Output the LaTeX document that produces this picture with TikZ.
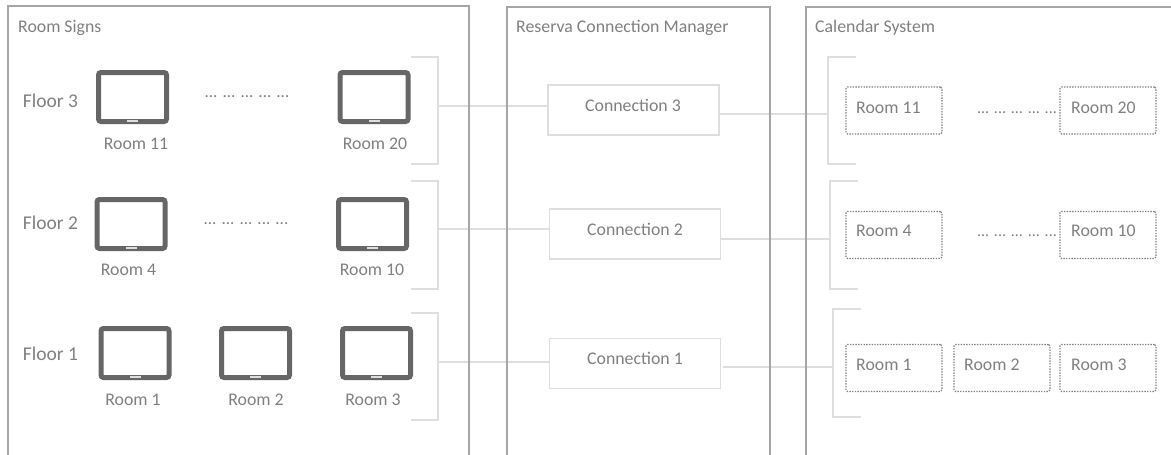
\documentclass[tikz,border=0pt]{standalone}
\usepackage{fontspec}
\setmainfont{Carlito}
\definecolor{panelc}{HTML}{A6A6A6}
\definecolor{linec}{HTML}{DEDEDE}
\definecolor{textc}{HTML}{808080}
\definecolor{tabc}{HTML}{666666}
\tikzset{
  panel/.style={draw=panelc,line width=1.4pt},
  brk/.style={draw=linec,line width=1.3pt},
  conn/.style={draw=linec,line width=1.3pt},
  connbox/.style={draw=linec,line width=1.3pt,minimum width=171pt,minimum height=50pt,inner sep=0pt,fill=white},
  tablet/.style={draw=tabc,line width=5pt,rounded corners=2.5pt,minimum width=68pt,minimum height=49pt,inner sep=0pt,fill=white},
  homebtn/.style={fill=linec,minimum width=11pt,minimum height=2pt,inner sep=0pt},
  roombox/.style={draw=textc,line width=1.2pt,dash pattern=on 1.4pt off 1.3pt,rounded corners=1.5pt,minimum width=96pt,minimum height=47pt,inner sep=0pt},
  lbl/.style={text=textc,font=\fontsize{17.8}{20}\selectfont,inner sep=0pt},
  floorlbl/.style={text=textc,font=\fontsize{19.5}{22}\selectfont,inner sep=0pt},
  title/.style={text=textc,font=\fontsize{17.8}{20}\selectfont,inner sep=0pt,anchor=base west},
  dotsl/.style={text=textc,font=\fontsize{17}{20}\selectfont,inner sep=0pt,anchor=base},
  dotsr/.style={text=textc,font=\fontsize{16}{20}\selectfont,inner sep=0pt,anchor=base},
}
\newcommand{\tabletat}[3]{%
  \node[tablet] (#1) at (#2,#3) {};
  \node[homebtn] (#1b) at (#2,#3+24.2) {};}
\begin{document}
\begin{tikzpicture}[x=1pt,y=-1pt]
\useasboundingbox (0,0) rectangle (1171,455);
% tablets
\tabletat{t20}{132.5}{97}\tabletat{t29}{374}{97}
\tabletat{t4}{131}{224}\tabletat{t10}{372.5}{224}
\tabletat{t1}{135}{353}\tabletat{t2}{255.5}{353}\tabletat{t3}{376.5}{353}
% left labels
\node[title] (ttl1) at (18,32) {Room Signs};
\node[title] (ttl2) at (516,32) {Reserva Connection Manager};
\node[title] (ttl3) at (815,32) {Calendar System};
\node[floorlbl] (f3) at (50.5,101) {Floor 3};
\node[floorlbl] (f2) at (50.5,223) {Floor 2};
\node[floorlbl] (f1) at (50.5,354) {Floor 1};
\node[lbl] (l11) at (136,144) {Room 11};
\node[lbl] (l20) at (375,144) {Room 20};
\node[lbl] (l4) at (128.5,270) {Room 4};
\node[lbl] (l10) at (372,270) {Room 10};
\node[lbl] (l1) at (133,400) {Room 1};
\node[lbl] (l2) at (256,400) {Room 2};
\node[lbl] (l3) at (373,400) {Room 3};
\node[dotsl] (d1) at (247,97) {... ... ... ... ...};
\node[dotsl] (d2) at (246,224) {... ... ... ... ...};
\node[dotsr] (d3) at (1017,113) {... ... ... ... ...};
\node[dotsr] (d4) at (1017,236) {... ... ... ... ...};
% connection boxes
\node[connbox] (c3) at (633.5,110) {};
\node[connbox] (c2) at (635,234) {};
\node[connbox] (c1) at (635,363.5) {};
\node[lbl] (c3t) at (633,105) {Connection 3};
\node[lbl] (c2t) at (635,229) {Connection 2};
\node[lbl] (c1t) at (635,358) {Connection 1};
% room boxes
\node[roombox] (r11) at (894,110.5) {};
\node[roombox] (r20) at (1108,110.5) {};
\node[roombox] (r4) at (894,235) {};
\node[roombox] (r10) at (1108,235) {};
\node[roombox] (r1) at (894,368) {};
\node[roombox] (r2) at (1002,368) {};
\node[roombox] (r3) at (1108,368) {};
\node[lbl,anchor=west] (r11t) at (856,107.5) {Room 11};
\node[lbl,anchor=west] (r20t) at (1071,107.5) {Room 20};
\node[lbl,anchor=west] (r4t) at (856,231) {Room 4};
\node[lbl,anchor=west] (r10t) at (1071,231) {Room 10};
\node[lbl,anchor=west] (r1t) at (856,365) {Room 1};
\node[lbl,anchor=west] (r2t) at (964,365) {Room 2};
\node[lbl,anchor=west] (r3t) at (1071,365) {Room 3};
% brackets
\coordinate (bl3) at (438,106);\coordinate (bl2) at (438,229);\coordinate (bl1) at (438,362);
\coordinate (br3) at (828,114);\coordinate (br2) at (830,239);\coordinate (br1) at (833,367);
\draw[brk] (411,57) -| (bl3) |- (411,164);
\draw[brk] (411,181) -| (bl2) |- (411,289);
\draw[brk] (411,313) -| (bl1) |- (411,420);
\draw[brk] (856,57) -| (br3) |- (856,164);
\draw[brk] (858,181) -| (br2) |- (858,289);
\draw[brk] (861,309) -| (br1) |- (861,417);
% connectors
\draw[conn] (bl3) -- (c3.west |- bl3);
\draw[conn] (bl2) -- (c2.west |- bl2);
\draw[conn] (bl1) -- (c1.west |- bl1);
\draw[conn] (c3.east |- br3) -- (br3);
\draw[conn] (c2.east |- br2) -- (br2);
\draw[conn] ([xshift=2pt]c1.east |- br1) -- (br1);
% panels
\draw[panel] (8,455) -- (8,6) -- (469,6) -- (469,455);
\draw[panel] (507,455) -- (507,7) -- (770,7) -- (770,455);
\draw[panel] (806,455) -- (806,7) -- (1171,7);
\end{tikzpicture}
\end{document}
